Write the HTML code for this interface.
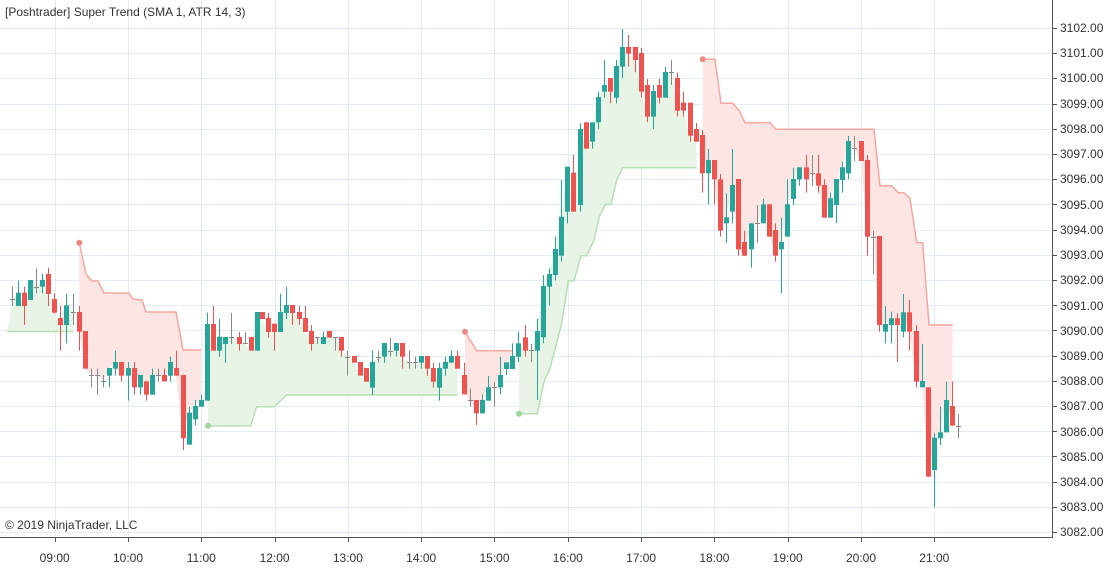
<!DOCTYPE html>
<html><head><meta charset="utf-8"><style>
html,body{margin:0;padding:0;background:#fff;}
svg{display:block;font-family:"Liberation Sans",sans-serif;}
</style></head><body>
<svg id="s" width="1110" height="570" viewBox="0 0 1110 570" xmlns="http://www.w3.org/2000/svg">
<g id="grid" stroke="#e3ecf2" stroke-width="1"></g>
<g id="fills"></g>
<g id="lines" fill="none" stroke-width="1.5"></g>
<g id="candles"></g>
<line x1="1052.5" y1="0" x2="1052.5" y2="538" stroke="#555" stroke-width="1"/>
<line x1="0" y1="537.5" x2="1053" y2="537.5" stroke="#555" stroke-width="1"/>
<g id="ticks" stroke="#555" stroke-width="1"></g>
<g font-size="12" fill="#333" id="ylab">
<text x="1060" y="32">3102.00</text><text x="1060" y="57">3101.00</text><text x="1060" y="82">3100.00</text><text x="1060" y="108">3099.00</text><text x="1060" y="133">3098.00</text><text x="1060" y="158">3097.00</text><text x="1060" y="183">3096.00</text><text x="1060" y="209">3095.00</text><text x="1060" y="234">3094.00</text><text x="1060" y="259">3093.00</text><text x="1060" y="284">3092.00</text><text x="1060" y="310">3091.00</text><text x="1060" y="335">3090.00</text><text x="1060" y="360">3089.00</text><text x="1060" y="385">3088.00</text><text x="1060" y="410">3087.00</text><text x="1060" y="436">3086.00</text><text x="1060" y="461">3085.00</text><text x="1060" y="486">3084.00</text><text x="1060" y="511">3083.00</text><text x="1060" y="536">3082.00</text>
</g>
<g font-size="12" fill="#333" text-anchor="middle">
<text x="54.7" y="562">09:00</text><text x="128" y="562">10:00</text><text x="201.3" y="562">11:00</text><text x="274.6" y="562">12:00</text><text x="347.9" y="562">13:00</text><text x="421.2" y="562">14:00</text><text x="494.5" y="562">15:00</text><text x="567.8" y="562">16:00</text><text x="641.1" y="562">17:00</text><text x="714.4" y="562">18:00</text><text x="787.7" y="562">19:00</text><text x="861" y="562">20:00</text><text x="934.3" y="562">21:00</text>
</g>
<text x="5" y="16" font-size="12" fill="#333">[Poshtrader] Super Trend (SMA 1, ATR 14, 3)</text>
<text x="5" y="529" font-size="12" fill="#333">© 2019 NinjaTrader, LLC</text>
</svg>
<script>
var NS="http://www.w3.org/2000/svg";
function el(p,t,a){var e=document.createElementNS(NS,t);for(var k in a)e.setAttribute(k,a[k]);document.getElementById(p).appendChild(e);return e;}
// grid
for(var i=0;i<=20;i++){var y=Math.round(28+i*25.2)+0.5;el("grid","line",{x1:0,x2:1052,y1:y,y2:y});el("ticks","line",{x1:1052,x2:1057,y1:y,y2:y});}
for(var k=0;k<13;k++){var x=Math.round(54.7+73.3*k)+0.5;el("grid","line",{x1:x,x2:x,y1:0,y2:537});el("ticks","line",{x1:x,x2:x,y1:537,y2:542});}
var segs=[
[0,230,[[37,'d',208,0,170,228],[55,'g',188,228,152,228],[73,'r',188,228,170,285],[91,'g',150,210,150,210],[109,'d',170,0,115,190],[127,'g',150,170,132,190],[145,'r',132,192,113,228],[163,'r',207,248,190,250],[181,'r',264,285,228,362],[199,'g',226,285,192,340],[219,'d',246,0,192,285],[238,'r',246,305,228,362],[256,'r',303,416,303,416],[274,'d',435,0,416,472],[292,'d',435,0,416,494],[310,'d',454,0,435,472],[328,'g',414,437,414,472],[346,'g',396,416,362,437],[364,'r',396,437,396,454],[384,'g',414,437,396,512],[402,'r',414,472,396,494],[420,'g',435,472,435,494],[438,'r',454,494,454,512],[456,'g',435,494,416,494],[474,'d',435,0,416,454],[492,'r',435,454,416,454],[510,'g',396,437,380,454],[528,'r',414,437,362,437],[548,'r',435,625,435,660],[566,'g',548,644,530,644],[584,'g',528,568,510,586],[602,'g',510,530,494,530],[620,'g',282,512,248,512],[640,'r',282,362,228,362],[658,'g',320,362,268,380]]],
[200,280,[[58,'g',171,212,117,230],[76,'g',171,192,171,248],[94,'d',171,0,99,192],[116,'r',171,192,156,212],[134,'d',190,0,156,192],[152,'r',171,212,171,212],[170,'g',96,212,96,212],[187,'r',96,117,96,117],[205,'r',114,156,99,173],[223,'r',131,156,131,212],[241,'g',96,156,42,156],[259,'g',75,99,20,117],[277,'r',75,99,75,135],[297,'r',96,117,78,135],[316,'r',114,156,78,156],[334,'r',153,192,135,212],[352,'d',171,0,171,192],[370,'g',171,192,156,192],[388,'r',153,173,153,173],[406,'d',171,0,171,212],[424,'r',171,212,171,230],[442,'d',230,0,212,287],[462,'r',228,248,228,248],[480,'r',246,287,246,287],[498,'r',264,305,264,305],[516,'g',246,323,212,345],[534,'d',230,0,212,248],[552,'g',189,230,189,248],[570,'d',212,0,173,230],[588,'g',189,212,189,230],[606,'r',189,230,189,266],[626,'d',246,0,212,266],[644,'d',246,0,230,266],[662,'g',228,248,228,266],[682,'r',228,266,228,287],[700,'r',264,305,248,323],[718,'g',264,323,248,362],[736,'g',246,266,230,287],[754,'g',228,248,212,248],[772,'r',228,266,212,266],[792,'r',285,343,248,343]]],
[450,20,[[60,'d',1140,0,1105,1160],[78,'r',1140,1180,1140,1215],[97,'g',1140,1180,1123,1180],[115,'g',1102,1142,1068,1142],[133,'d',1102,0,1085,1160],[151,'g',1065,1102,1010,1123],[169,'g',1027,1047,1027,1065],[187,'g',1008,1047,970,1047],[205,'g',970,1010,935,1027],[225,'r',952,992,915,1010],[243,'d',990,0,972,1027],[262,'g',933,992,897,1140],[280,'g',798,952,765,970],[298,'g',762,800,745,857],[316,'g',687,765,650,782],[334,'g',590,707,480,725],[352,'g',440,575,440,610],[370,'r',458,575,405,575],[391,'g',327,555,310,575],[409,'r',307,386,307,386],[427,'g',307,365,307,386],[445,'g',231,307,215,327],[463,'g',195,215,120,233],[481,'r',174,215,174,250],[499,'g',138,233,120,250],[517,'g',81,140,27,175],[535,'r',81,101,45,140],[555,'r',81,120,81,157],[573,'r',99,215,84,233],[591,'r',195,290,177,307],[609,'g',213,290,195,327],[627,'r',195,233,177,250],[645,'g',156,233,140,233],[663,'d',156,0,120,195],[681,'r',174,272,158,290],[699,'r',248,272,215,290],[720,'r',248,347,248,365],[738,'r',327,365,309,365]]],
[690,50,[[36,'r',255,370,240,428],[55,'g',330,370,297,463],[73,'r',330,388,330,463],[91,'r',388,542,372,560],[109,'g',502,520,430,578],[127,'g',405,485,297,520],[145,'r',387,598,387,617],[163,'r',576,617,542,617],[184,'g',520,598,520,653],[202,'d',520,0,465,578],[220,'g',463,520,447,520],[238,'r',463,560,463,560],[256,'r',540,617,520,635],[274,'g',576,598,503,730],[292,'g',463,560,388,560],[310,'g',387,447,353,465],[328,'g',352,388,352,407],[348,'r',352,388,315,428],[366,'d',370,0,315,407],[384,'r',370,407,315,428],[402,'r',405,503,388,503],[420,'g',445,503,428,503],[438,'g',387,465,387,520],[456,'g',352,390,335,428],[474,'g',273,370,258,388],[492,'d',295,0,258,333],[514,'r',273,333,273,333],[532,'r',330,560,315,617],[550,'d',560,0,542,673],[568,'r',558,825,558,845],[586,'g',822,845,768,880],[604,'g',805,825,785,880],[622,'r',805,825,790,937],[640,'g',787,845,732,862],[658,'r',787,845,750,902],[678,'r',843,995,825,1012],[696,'g',993,1012,882,1012],[715,'r',1012,1280,1012,1280],[733,'g',1163,1260,1150,1372],[751,'g',1147,1165,1070,1185],[769,'g',1050,1147,995,1147],[787,'r',1068,1127,995,1127],[805,'d',1127,0,1092,1165]]]
];
var C=[];
segs.forEach(function(s){s[2].forEach(function(c){
 var x=s[0]+c[0]/3,t=c[1],bt=s[1]+c[2]/3,bb=s[1]+c[3]/3,wt=s[1]+c[4]/3,wb=s[1]+c[5]/3;
 var close=t=='g'?bt:(t=='r'?bb:bt);C.push({x:x,t:t,bt:bt,bb:bb,wt:wt,wb:wb,c:close});});});
var col={g:"#26a69a",r:"#ef5350",d:"#888"};
C.forEach(function(c){
 var x=Math.round(c.x);
 el("candles","rect",{x:x,y:c.wt,width:1,height:Math.max(1,c.wb-c.wt),fill:col[c.t]});
 if(c.t=='d')el("candles","rect",{x:x-2,y:Math.round(c.bt),width:5,height:1,fill:col.d});
 else el("candles","rect",{x:x-2,y:c.bt,width:5,height:Math.max(1,c.bb-c.bt),fill:col[c.t]});
});
var trends=[
['g',[[7,331.5],[73,331.5]],false],
['r',[[79.3,242.7],[86,274],[92,281],[98,281],[104,293],[129,293],[133,299],[142,300],[146,312],[176,312],[183,350],[201,350]],true],
['g',[[208,425.7],[250.7,425.7],[256.7,406.7],[274.3,406.7],[286.7,395],[457.7,395]],true],
['r',[[465,331.7],[476.7,350.7],[511.7,350.7]],true],
['g',[[519,413.7],[537.3,413.7],[544,381.7],[550,368.3],[561.7,323.3],[568.3,280.7],[574,280.7],[581,255.7],[586.7,255.7],[594,240],[599.3,216.7],[605.3,204.3],[611,204.3],[616.7,180],[622.7,167.7],[696.7,167.7]],true],
['r',[[702.7,59.3],[715,59.3],[721,103.3],[732.7,103.3],[739.3,110.7],[745,122.7],[770,122.7],[776,129.3],[874,129.3],[880,185.7],[891.7,185.7],[898.3,192.7],[904,192.7],[910,198.3],[916.7,242.7],[922.7,242.7],[929,325],[952.7,325]],true]
];
trends.forEach(function(tr){
 var pts=tr[1],x0=pts[0][0],x1=pts[pts.length-1][0];
 var cs=C.filter(function(c){return c.x>=x0-3&&c.x<=x1+3;}).sort(function(a,b){return a.x-b.x;});
 var poly=pts.map(function(p){return p.join(",");});
 var back=cs.map(function(c){return Math.min(Math.max(c.x,x0),x1)+","+c.c;}).reverse();
 if(cs.length)poly=poly.concat(back);
 el("fills","polygon",{points:poly.join(" "),fill:tr[0]=='g'?"#e8f4e6":"#fde5e4"});
 el("lines","polyline",{points:pts.map(function(p){return p.join(",");}).join(" "),stroke:tr[0]=='g'?"#b7dfb4":"#f6a7a1"});
 if(tr[2])el("lines","circle",{cx:pts[0][0],cy:pts[0][1],r:3,fill:tr[0]=='g'?"#9fd49b":"#f08782",stroke:"none"});
});
</script>
</body></html>
